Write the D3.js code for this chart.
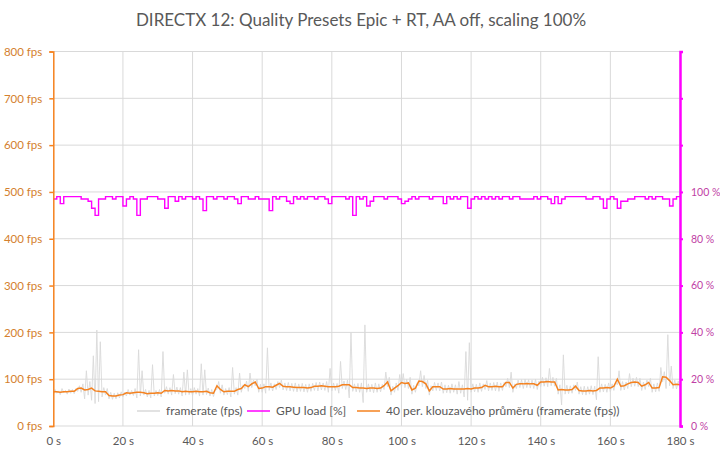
<!DOCTYPE html>
<html>
<head>
<meta charset="utf-8">
<script src="https://cdn.jsdelivr.net/npm/d3@7"></script>
<style>
  body { margin: 0; background: #fff; }
  svg { display: block; font-family: Lato, "Open Sans", sans-serif; }
</style>
</head>
<body>
<svg id="chart" width="720" height="455"></svg>
<script>
const title = "DIRECTX 12: Quality Presets Epic + RT, AA off, scaling 100%";
const seriesNames = ["framerate (fps)", "GPU load [%]", "40 per. klouzavého průměru (framerate (fps))"];
const fpsTicks = [0, 100, 200, 300, 400, 500, 600, 700, 800];
const pctTicks = [0, 20, 40, 60, 80, 100, 120, 140, 160];
const timeTicks = [0, 20, 40, 60, 80, 100, 120, 140, 160, 180];

// raw framerate, one sample every 0.5 s
const framerateStep = 0.5;
const framerate = [
66,78, 70,75, 67,80, 71,76, 68,79, 70,78, 69,80, 74,86, 72,90, 58,118,
66,95, 55,150, 48,205, 52,180, 62,82, 66,80, 58,72, 57,70, 58,71, 60,73,
62,72, 64,78, 66,76, 65,80, 60,163, 64,118, 66,78, 62,76, 60,131, 64,76,
65,78, 62,159, 70,84, 68,82, 66,110, 69,83, 68,82, 64,115, 66,120, 67,80,
65,82, 68,80, 64,133, 66,120, 67,81, 64,78, 63,77, 78,95, 70,88, 66,80,
67,82, 62,125, 68,82, 66,113, 72,88, 80,96, 74,113, 82,98, 86,100, 72,89,
72,90, 70,167, 76,92, 75,90, 78,95, 82,98, 77,92, 76,93, 75,91, 74,92,
73,90, 74,91, 73,89, 72,90, 74,91, 76,93, 75,94, 77,92, 76,95, 72,123,
75,92, 76,91, 70,138, 80,96, 78,98, 60,200, 74,90, 73,91, 72,92, 50,216,
72,90, 73,89, 71,92, 72,90, 73,89, 78,115, 84,104, 66,85, 72,92, 76,110,
82,112, 82,100, 80,104, 68,87, 72,92, 86,118, 84,108, 80,98, 66,86, 75,93,
76,92, 75,94, 70,88, 71,87, 70,90, 72,88, 68,95, 70,88, 62,159, 55,178,
72,90, 73,89, 72,92, 74,90, 78,97, 75,92, 76,93, 75,94, 74,92, 76,93,
84,102, 82,115, 72,90, 80,98, 82,99, 80,100, 82,99, 81,98, 80,100, 78,96,
84,104, 85,103, 84,123, 86,104, 85,102, 68,88, 45,152, 68,87, 69,86, 70,88,
76,94, 68,84, 67,85, 66,84, 68,86, 67,85, 56,148, 72,90, 73,89, 72,92,
73,90, 76,94, 88,118, 76,95, 77,94, 80,112, 84,102, 85,104, 84,102, 76,94,
78,98, 84,102, 72,90, 73,92, 74,125, 94,116, 80,195, 86,128, 80,98, 79,96,
80
];

// GPU load [%], one sample per second
const gpuStep = 1;
const gpuLoad = [
97,98,95,98,98,98,98,98,97,97, 96,93,90,97,97,98,98,97,98,98,
94,97,98,97,90,97,97,98,98,98, 97,97,93,98,98,96,98,97,98,98,
97,98,97,92,98,98,97,98,98,97, 98,98,97,95,98,98,97,97,98,97,
97,97,92,98,97,98,98,96,95,98, 97,98,97,98,98,97,98,98,97,95,
98,98,98,98,97,98,90,98,97,98, 94,96,98,98,98,97,98,98,98,97,
95,96,97,98,97,98,98,98,97,98, 98,98,95,98,97,98,97,98,98,93,
97,98,97,98,97,98,97,98,97,98, 98,97,98,98,97,97,97,97,98,97,
98,98,97,95,98,95,97,98,98,98, 98,98,98,97,97,98,98,97,93,97,
98,97,93,96,96,97,97,98,98,98, 97,98,97,98,98,97,97,94,97,98,
98
];

// 40-period moving average of framerate, read per second
const avgStep = 1;
const movingAvg = [
73,73,72,73,73,74,74,80,81,77, 78,81,75,74,73,73,65,64,64,66,
67,71,70,71,72,72,71,69,70,70, 71,70,76,75,76,75,75,73,74,73,
73,74,73,73,74,71,70,86,78,73, 74,74,74,78,80,88,84,90,94,80,
81,84,84,83,87,91,85,84,84,83, 82,82,82,81,82,85,85,86,85,84,
84,84,85,88,88,88,82,82,81,81, 80,81,81,80,81,86,94,75,81,86,
93,91,92,77,81,96,95,90,75,84, 84,84,79,79,80,79,79,79,79,80,
79,81,81,82,87,84,84,85,84,84, 93,93,81,89,90,90,91,90,90,87,
94,94,95,94,94,77,78,77,77,78, 85,76,75,75,76,75,76,81,81,82,
81,85,100,85,86,90,93,94,93,85, 88,93,81,81,82,105,104,97,88,89,
88
];

const svg = d3.select("#chart");
const plotLeft = 53.3, plotRight = 680, plotTop = 51.5, plotBottom = 426;

const x = d3.scaleLinear().domain([0, 180]).range([plotLeft, plotRight]);
const yL = d3.scaleLinear().domain([0, 800]).range([plotBottom, plotTop]);
const yR = d3.scaleLinear().domain([0, 160]).range([plotBottom, plotTop]);

const gridColor = "#d9d9d9";
const orange = "#f5821f";
const magenta = "#ff00ff";
const grayText = "#595959";

// title
svg.append("text")
  .attr("x", 361).attr("y", 26)
  .attr("text-anchor", "middle")
  .attr("font-size", 17)
  .attr("fill", grayText)
  .text(title);

// grid
const grid = svg.append("g");
grid.selectAll("line.h").data(fpsTicks).join("line")
  .attr("class", "h")
  .attr("x1", plotLeft).attr("x2", plotRight)
  .attr("y1", d => yL(d)).attr("y2", d => yL(d))
  .attr("stroke", gridColor).attr("stroke-width", 1);
grid.selectAll("line.v").data(timeTicks.slice(1)).join("line")
  .attr("class", "v")
  .attr("y1", plotTop).attr("y2", plotBottom)
  .attr("x1", d => x(d)).attr("x2", d => x(d))
  .attr("stroke", gridColor).attr("stroke-width", 1);

// bottom axis labels
const xAxis = d3.axisBottom(x).tickValues(timeTicks).tickFormat(d => d + " s").tickSize(0).tickPadding(11);
const gx = svg.append("g").attr("transform", `translate(0,${plotBottom})`).call(xAxis);
gx.select(".domain").remove();
gx.selectAll("text").attr("fill", grayText).attr("font-size", 11.5).attr("font-family", "Lato, sans-serif");

// lines
const frData = framerate.map((v, i) => [i * framerateStep, v]);
const gpuData = gpuLoad.map((v, i) => [i * gpuStep, v]);
const avgData = movingAvg.map((v, i) => [i * avgStep, v]);

svg.append("path")
  .datum(frData)
  .attr("fill", "none")
  .attr("stroke", "#d9d9d9")
  .attr("stroke-width", 0.9)
  .attr("d", d3.line().x(d => x(d[0])).y(d => yL(d[1])));

svg.append("path")
  .datum(gpuData)
  .attr("fill", "none")
  .attr("stroke", magenta)
  .attr("stroke-width", 1.4)
  .attr("d", d3.line().curve(d3.curveStepAfter).x(d => x(d[0])).y(d => yR(d[1])));

svg.append("path")
  .datum(avgData)
  .attr("fill", "none")
  .attr("stroke", orange)
  .attr("stroke-width", 1.5)
  .attr("d", d3.line().x(d => x(d[0])).y(d => yL(d[1])));

// left axis
const yAxisL = d3.axisLeft(yL).tickValues(fpsTicks).tickFormat(d => d + " fps").tickSize(4).tickPadding(7);
const gl = svg.append("g").attr("transform", `translate(${plotLeft},0)`).call(yAxisL);
gl.select(".domain").attr("stroke", orange).attr("stroke-width", 1.5);
gl.selectAll(".tick line").attr("stroke", orange).attr("stroke-width", 1.5);
gl.selectAll("text").attr("fill", "#d4802e").attr("font-size", 11.5).attr("font-family", "Lato, sans-serif");

// right axis
const yAxisR = d3.axisRight(yR).tickValues(pctTicks).tickFormat(d => d <= 100 ? d + " %" : "").tickSize(3).tickPadding(8);
const gr = svg.append("g").attr("transform", `translate(${plotRight},0)`).call(yAxisR);
gr.select(".domain").attr("stroke", magenta).attr("stroke-width", 2.5);
gr.selectAll(".tick line").attr("stroke", magenta).attr("stroke-width", 2);
gr.selectAll("text").attr("fill", "#bf3fa6").attr("font-size", 10.5).attr("font-family", "Lato, sans-serif");

// legend
const legendColors = ["#d9d9d9", magenta, orange];
const legendX = [137, 247, 357];
const lg = svg.append("g");
seriesNames.forEach((name, i) => {
  lg.append("line")
    .attr("x1", legendX[i]).attr("x2", legendX[i] + 23)
    .attr("y1", 411).attr("y2", 411)
    .attr("stroke", legendColors[i]).attr("stroke-width", 1.5);
  lg.append("text")
    .attr("x", legendX[i] + 29).attr("y", 415)
    .attr("font-size", 12)
    .attr("fill", grayText)
    .text(name);
});
</script>
</body>
</html>
